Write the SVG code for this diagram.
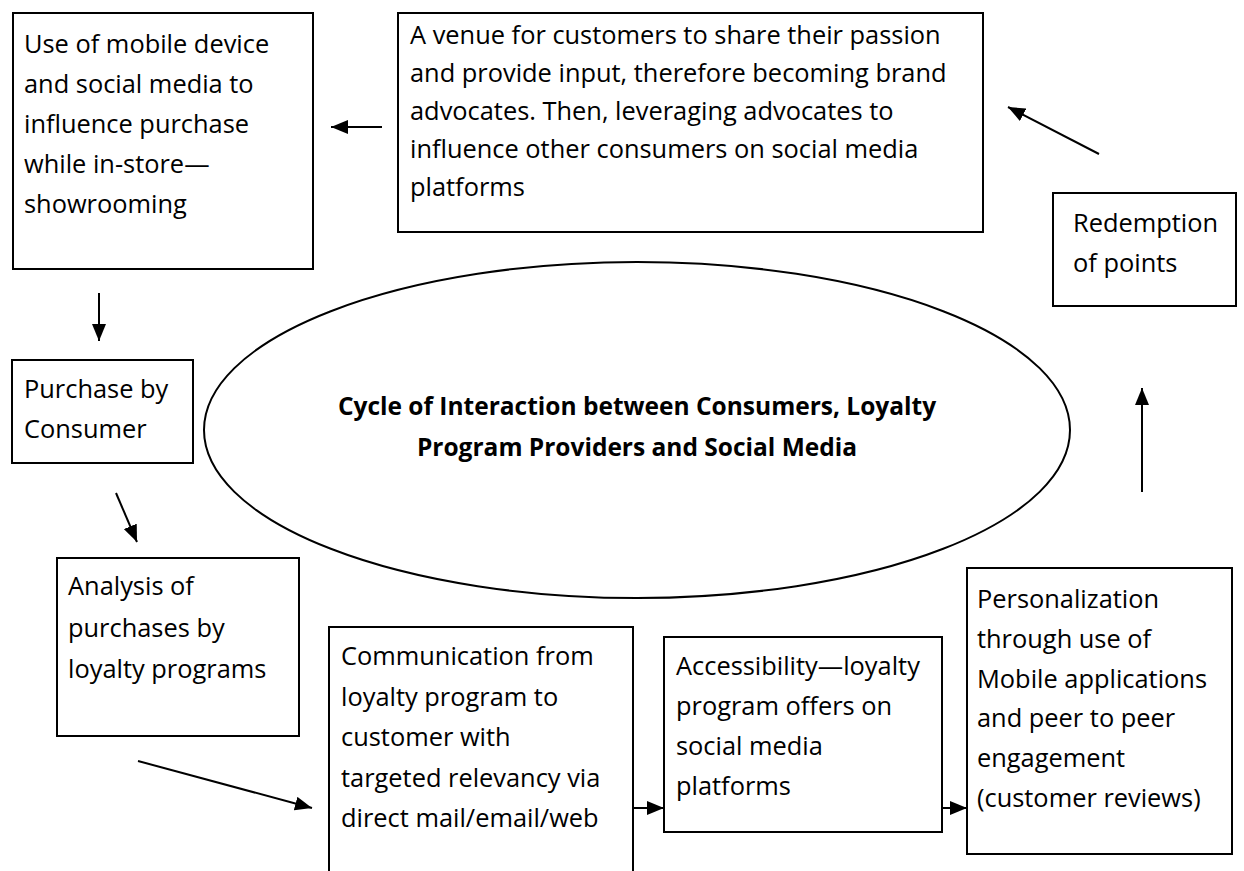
<svg xmlns="http://www.w3.org/2000/svg" width="1244" height="871" viewBox="0 0 1244 871">
  <style>
    .box { fill: #ffffff; stroke: #000000; stroke-width: 2; }
    .lbl { font-family: "Open Sans", "Liberation Sans", sans-serif; font-size: 25.4px; fill: #000000; }
    .title { font-family: "Open Sans", "Liberation Sans", sans-serif; font-size: 24.5px; font-weight: bold; fill: #000000; text-anchor: middle; }
    .conn { stroke: #000000; stroke-width: 2; fill: none; marker-end: url(#head); }
  </style>
  <defs>
    <marker id="head" markerUnits="userSpaceOnUse" markerWidth="17" markerHeight="14" refX="17" refY="7" orient="auto">
      <path d="M0,0 L17,7 L0,14 Z" fill="#000000"/>
    </marker>
  </defs>

  <rect width="1244" height="871" fill="#ffffff"/>

  <!-- central ellipse with the cycle title -->
  <g id="cycle">
    <ellipse cx="637" cy="430" rx="433" ry="168" fill="none" stroke="#000000" stroke-width="2"/>
    <text class="title" x="637" y="415">Cycle of Interaction between Consumers, Loyalty</text>
    <text class="title" x="637" y="456">Program Providers and Social Media</text>
  </g>

  <g id="showrooming">
    <rect class="box" x="13" y="13" width="300" height="256"/>
    <text class="lbl" x="24" y="53">Use of mobile device</text>
    <text class="lbl" x="24" y="93">and social media to</text>
    <text class="lbl" x="24" y="133">influence purchase</text>
    <text class="lbl" x="24" y="173">while in-store—</text>
    <text class="lbl" x="24" y="213">showrooming</text>
  </g>

  <g id="advocates">
    <rect class="box" x="398" y="13" width="585" height="219"/>
    <text class="lbl" x="410" y="44">A venue for customers to share their passion</text>
    <text class="lbl" x="410" y="82">and provide input, therefore becoming brand</text>
    <text class="lbl" x="410" y="120">advocates. Then, leveraging advocates to</text>
    <text class="lbl" x="410" y="158">influence other consumers on social media</text>
    <text class="lbl" x="410" y="196">platforms</text>
  </g>

  <g id="redemption">
    <rect class="box" x="1053" y="193" width="183" height="113"/>
    <text class="lbl" x="1073" y="232">Redemption</text>
    <text class="lbl" x="1073" y="272">of points</text>
  </g>

  <g id="purchase">
    <rect class="box" x="12" y="360" width="181" height="103"/>
    <text class="lbl" x="24" y="398">Purchase by</text>
    <text class="lbl" x="24" y="438">Consumer</text>
  </g>

  <g id="analysis">
    <rect class="box" x="57" y="558" width="242" height="178"/>
    <text class="lbl" x="68" y="595">Analysis of</text>
    <text class="lbl" x="68" y="637">purchases by</text>
    <text class="lbl" x="68" y="678">loyalty programs</text>
  </g>

  <g id="communication">
    <rect class="box" x="329" y="627" width="304" height="260"/>
    <text class="lbl" x="341" y="665">Communication from</text>
    <text class="lbl" x="341" y="706">loyalty program to</text>
    <text class="lbl" x="341" y="746">customer with</text>
    <text class="lbl" x="341" y="787">targeted relevancy via</text>
    <text class="lbl" x="341" y="827">direct mail/email/web</text>
  </g>

  <g id="accessibility">
    <rect class="box" x="664" y="637" width="278" height="195"/>
    <text class="lbl" x="676" y="675">Accessibility—loyalty</text>
    <text class="lbl" x="676" y="715">program offers on</text>
    <text class="lbl" x="676" y="755">social media</text>
    <text class="lbl" x="676" y="795">platforms</text>
  </g>

  <g id="personalization">
    <rect class="box" x="967" y="568" width="265" height="286"/>
    <text class="lbl" x="977" y="608">Personalization</text>
    <text class="lbl" x="977" y="648">through use of</text>
    <text class="lbl" x="977" y="688">Mobile applications</text>
    <text class="lbl" x="977" y="727">and peer to peer</text>
    <text class="lbl" x="977" y="767">engagement</text>
    <text class="lbl" x="977" y="807">(customer reviews)</text>
  </g>

  <!-- flow arrows around the cycle -->
  <g id="connectors">
    <line class="conn" x1="382" y1="127" x2="331" y2="127"/>
    <line class="conn" x1="99" y1="293" x2="99" y2="341"/>
    <line class="conn" x1="116" y1="493" x2="137" y2="542"/>
    <line class="conn" x1="138" y1="761" x2="312" y2="808"/>
    <line class="conn" x1="633" y1="808" x2="664" y2="808"/>
    <line class="conn" x1="942" y1="808" x2="967" y2="808"/>
    <line class="conn" x1="1142" y1="492" x2="1142" y2="388"/>
    <line class="conn" x1="1099" y1="154" x2="1008" y2="107"/>
  </g>
</svg>
